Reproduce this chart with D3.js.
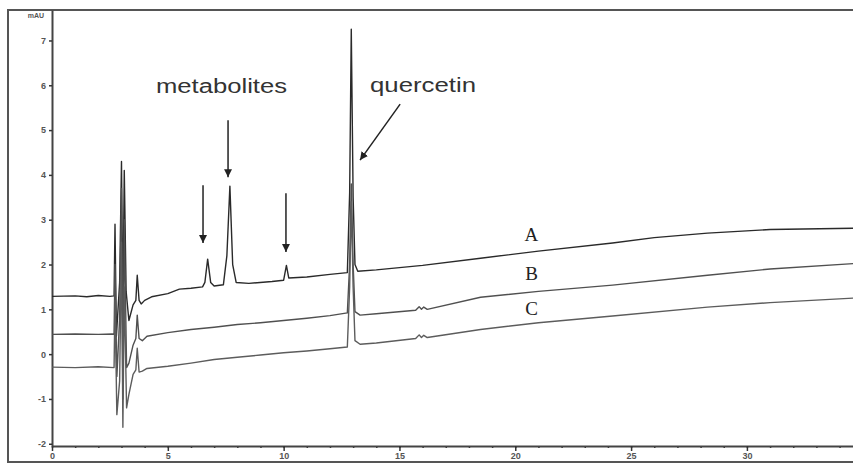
<!DOCTYPE html>
<html>
<head>
<meta charset="utf-8">
<script src="https://cdn.jsdelivr.net/npm/d3@7"></script>
<style>
  body { margin: 0; background: #fff; }
  svg { display: block; }
</style>
</head>
<body>
<div class="viz"></div>
<script>
// chromatogram traces A, B, C : [time (min), absorbance (mAU)]
var trace_a = [[0,1.29],[1,1.30],[1.5,1.28],[2,1.31],[2.5,1.29],[2.68,1.30],
    [2.72,2.9],[2.78,0.4],[2.92,1.6],[3.0,4.3],[3.06,0.9],[3.12,4.1],[3.2,1.4],[3.32,0.75],
    [3.5,1.1],[3.62,1.2],[3.68,1.76],[3.76,1.2],[3.85,1.12],[4.0,1.2],[4.3,1.28],[5,1.35],
    [5.5,1.45],[6.0,1.47],[6.5,1.5],[6.6,1.6],[6.72,2.12],[6.85,1.6],[7.0,1.52],[7.4,1.55],
    [7.55,2.2],[7.68,3.75],[7.8,2.0],[7.95,1.6],[8.5,1.58],[9.5,1.62],[10.0,1.65],[10.12,1.98],
    [10.22,1.7],[11,1.72],[12,1.78],[12.75,1.82],[12.85,3.6],[12.92,7.25],[13.0,3.5],[13.08,2.0],
    [13.2,1.85],[14,1.88],[16,1.98],[18.5,2.14],[21,2.3],[24.2,2.48],[26,2.6],[28.3,2.7],
    [31,2.78],[34.6,2.81]];

var trace_b = [[0,0.44],[1,0.45],[2,0.44],[2.6,0.45],[2.68,0.44],
    [2.72,2.0],[2.8,-0.5],[2.92,0.8],[3.0,3.7],[3.06,-1.0],[3.12,3.0],[3.22,-0.3],[3.32,-0.2],
    [3.5,0.2],[3.62,0.35],[3.68,0.87],[3.76,0.35],[3.9,0.3],[4.1,0.4],[5,0.48],[6,0.55],
    [7,0.6],[8,0.66],[9,0.7],[10,0.75],[11,0.8],[12,0.86],[12.75,0.92],[12.85,2.0],[12.92,3.8],
    [13.0,2.0],[13.08,0.95],[13.3,0.87],[14,0.9],[15.7,0.98],[15.85,1.06],[15.95,1.0],
    [16.05,1.05],[16.2,1.0],[18.5,1.27],[21,1.4],[24.2,1.54],[28.3,1.76],[31,1.9],[34.6,2.02]];

var trace_c = [[0,-0.29],[1,-0.3],[2,-0.28],[2.68,-0.3],
    [2.72,1.2],[2.8,-1.35],[2.92,-0.6],[3.0,2.5],[3.06,-1.63],[3.12,1.5],[3.22,-1.2],[3.32,-0.9],
    [3.5,-0.45],[3.62,-0.35],[3.68,0.13],[3.76,-0.4],[3.9,-0.38],[4.1,-0.32],[5,-0.27],[6,-0.2],
    [7,-0.12],[8,-0.07],[9,-0.02],[10,0.03],[11,0.07],[12,0.12],[12.75,0.16],[12.85,1.5],
    [12.92,3.4],[13.0,1.5],[13.08,0.3],[13.3,0.22],[14,0.25],[15.7,0.35],[15.85,0.43],
    [15.95,0.37],[16.05,0.42],[16.2,0.37],[18.5,0.55],[21,0.7],[24.2,0.85],[28.3,1.05],
    [31,1.15],[34.6,1.25]];

var trace_names = ['A', 'B', 'C'];
var trace_label_pos = [[20.7, 2.52], [20.7, 1.65], [20.7, 0.87]];

var x_ticks = [0, 5, 10, 15, 20, 25, 30];
var x_minor_ticks = d3.range(0, 35, 1);
var y_ticks = [-2, -1, 0, 1, 2, 3, 4, 5, 6, 7];

// arrows : [time, from, to] in data units
var metabolite_arrows = [[6.52, 3.77, 2.48], [7.6, 5.22, 3.95], [10.1, 3.59, 2.28]];
var quercetin_arrow = [[15.03, 5.58], [13.3, 4.33]];

var width = 853, height = 464;
var margin = { top: 10, right: 0, bottom: 18, left: 52 };

var graph = d3.select('.viz')
    .append('svg')
    .attr('width', width)
    .attr('height', height);

var x = d3.scaleLinear()
    .domain([0, 34.58])
    .range([margin.left, width - margin.right]);
var y = d3.scaleLinear()
    .domain([-2.05, 7.68])
    .range([height - margin.bottom, margin.top]);

graph.append('defs').append('marker')
    .attr('id', 'head')
    .attr('viewBox', '0 0 10 10')
    .attr('refX', 10).attr('refY', 5)
    .attr('markerWidth', 8).attr('markerHeight', 8)
    .attr('markerUnits', 'userSpaceOnUse')
    .attr('orient', 'auto')
    .append('path')
    .attr('d', 'M0,0 L10,5 L0,10 Z')
    .attr('fill', '#222');

// outer frame
graph.append('rect')
    .attr('x', 8).attr('y', 10)
    .attr('width', width + 10).attr('height', 452)
    .attr('fill', 'none')
    .attr('stroke', '#555')
    .attr('stroke-width', 2);

// axes
var x_minor = graph.append('g')
    .attr('transform', `translate(0, ${y.range()[0]})`)
    .call(d3.axisBottom(x).tickValues(x_minor_ticks).tickSize(2).tickFormat(''));
x_minor.select('.domain').remove();

var x_axis = graph.append('g')
    .attr('transform', `translate(0, ${y.range()[0]})`)
    .call(d3.axisBottom(x).tickValues(x_ticks).tickSize(5).tickSizeOuter(0).tickPadding(2));

var y_axis = graph.append('g')
    .attr('transform', `translate(${margin.left}, 0)`)
    .call(d3.axisLeft(y).tickValues(y_ticks).tickSize(3).tickSizeOuter(0).tickPadding(3)
        .tickFormat(d => String(d)));

graph.selectAll('.domain')
    .attr('stroke', '#444')
    .attr('stroke-width', 2);
graph.selectAll('.tick line')
    .attr('stroke', '#333')
    .attr('stroke-width', 1.5);
graph.selectAll('.tick text')
    .attr('font-family', 'Arial, "Liberation Sans", sans-serif')
    .attr('font-size', '9px')
    .attr('font-weight', 'bold')
    .attr('fill', '#555');

graph.append('text')
    .attr('x', 44).attr('y', 18)
    .attr('text-anchor', 'end')
    .attr('font-family', 'Arial, "Liberation Sans", sans-serif')
    .attr('font-size', '7px')
    .attr('font-weight', 'bold')
    .attr('fill', '#555')
    .text('mAU');

// traces
var line = d3.line()
    .x(d => x(d[0]))
    .y(d => y(d[1]));

var colors = ['#2a2a2a', '#505050', '#5c5c5c'];
[trace_a, trace_b, trace_c].forEach((t, i) => {
    graph.append('path')
        .datum(t)
        .attr('d', line)
        .attr('fill', 'none')
        .attr('stroke', colors[i])
        .attr('stroke-width', 1.4)
        .attr('stroke-linejoin', 'round');
});

// trace letters
graph.selectAll('.trace-name')
    .data(trace_names)
    .enter()
    .append('text')
    .attr('x', (d, i) => x(trace_label_pos[i][0]))
    .attr('y', (d, i) => y(trace_label_pos[i][1]))
    .attr('text-anchor', 'middle')
    .attr('font-family', '"Liberation Serif", "Times New Roman", serif')
    .attr('font-size', '19px')
    .attr('fill', '#222')
    .text(d => d);

// annotations
graph.selectAll('.arrow')
    .data(metabolite_arrows)
    .enter()
    .append('line')
    .attr('x1', d => x(d[0])).attr('x2', d => x(d[0]))
    .attr('y1', d => y(d[1])).attr('y2', d => y(d[2]))
    .attr('stroke', '#222')
    .attr('stroke-width', 1.5)
    .attr('marker-end', 'url(#head)');

graph.append('line')
    .attr('x1', x(quercetin_arrow[0][0])).attr('y1', y(quercetin_arrow[0][1]))
    .attr('x2', x(quercetin_arrow[1][0])).attr('y2', y(quercetin_arrow[1][1]))
    .attr('stroke', '#222')
    .attr('stroke-width', 1.5)
    .attr('marker-end', 'url(#head)');

graph.append('text')
    .attr('x', 156).attr('y', 93)
    .attr('textLength', 131)
    .attr('lengthAdjust', 'spacingAndGlyphs')
    .attr('font-family', 'Arial, "Liberation Sans", sans-serif')
    .attr('font-size', '20px')
    .attr('fill', '#333')
    .text('metabolites');

graph.append('text')
    .attr('x', 370).attr('y', 92)
    .attr('textLength', 106)
    .attr('lengthAdjust', 'spacingAndGlyphs')
    .attr('font-family', 'Arial, "Liberation Sans", sans-serif')
    .attr('font-size', '20px')
    .attr('fill', '#333')
    .text('quercetin');
</script>
</body>
</html>
